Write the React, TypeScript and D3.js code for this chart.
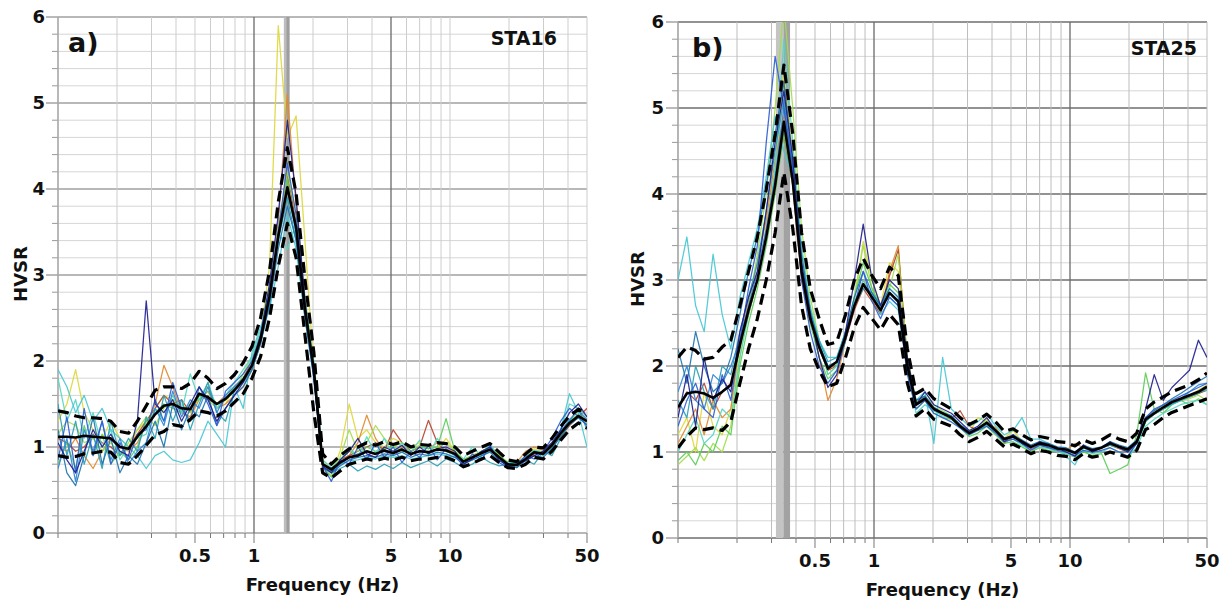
import * as d3 from "d3";

// frequency samples (Hz), shared by both stations
const FREQ = [
  0.1, 0.111, 0.123, 0.136, 0.151, 0.168, 0.186, 0.207, 0.229, 0.254,
  0.282, 0.313, 0.347, 0.385, 0.427, 0.473, 0.525, 0.582, 0.646, 0.716,
  0.794, 0.881, 0.977, 1.08, 1.2, 1.33, 1.48, 1.64, 1.82, 2.02,
  2.24, 2.48, 2.75, 3.06, 3.39, 3.76, 4.17, 4.62, 5.13, 5.69,
  6.31, 7.0, 7.76, 8.61, 9.55, 10.6, 11.7, 13.0, 14.5, 16.0,
  17.8, 19.7, 21.9, 24.3, 26.9, 29.9, 33.1, 36.7, 40.7, 45.2,
  50,
];

const X_TICK_LABELS = [0.5, 1, 5, 10, 50];
const Y_TICK_LABELS = [0, 1, 2, 3, 4, 5, 6];

// ---- STA16 ----
const A_MEAN = [
  1.12, 1.12, 1.11, 1.13, 1.12, 1.11, 1.1, 1.0, 0.98, 1.12,
  1.24, 1.38, 1.48, 1.5, 1.45, 1.44, 1.62, 1.58, 1.5, 1.56,
  1.66, 1.78, 1.95, 2.25, 2.75, 3.45, 4.02, 3.55, 2.6, 1.9,
  0.8, 0.74, 0.82, 0.88, 0.9, 0.95, 0.92, 0.96, 0.93, 0.97,
  0.92, 0.95, 0.94, 0.97, 0.96, 0.92, 0.83, 0.88, 0.93, 0.97,
  0.88, 0.8, 0.79, 0.86, 0.94, 0.92, 1.02, 1.16, 1.28, 1.36,
  1.3,
];
const A_UPPER = [
  1.42, 1.4, 1.36, 1.34, 1.34, 1.33, 1.3, 1.18, 1.16, 1.3,
  1.48, 1.66, 1.7, 1.7, 1.68, 1.74, 1.88, 1.8, 1.68, 1.74,
  1.84, 1.98, 2.17, 2.5, 3.05, 3.85, 4.48, 3.95, 2.95, 2.1,
  0.92, 0.8, 0.9, 0.98, 1.0, 1.05, 1.02, 1.06, 1.03, 1.06,
  1.0, 1.03, 1.02, 1.05, 1.04, 1.0, 0.9, 0.95, 1.0, 1.04,
  0.94, 0.85, 0.83, 0.92, 1.0, 0.99, 1.1, 1.24, 1.36, 1.44,
  1.4,
];
const A_LOWER = [
  0.9, 0.88, 0.89, 0.92, 0.93, 0.95, 0.94, 0.82, 0.8, 0.9,
  1.02, 1.14, 1.18, 1.26, 1.24, 1.32, 1.42, 1.4, 1.36, 1.42,
  1.52, 1.62, 1.8, 2.05, 2.5, 3.1, 3.6, 3.2, 2.3, 1.4,
  0.7, 0.64, 0.72, 0.8, 0.83, 0.86, 0.84, 0.87, 0.85, 0.88,
  0.84, 0.86, 0.86, 0.88, 0.88, 0.84, 0.77, 0.81, 0.86, 0.9,
  0.82, 0.76, 0.75, 0.8, 0.88, 0.86, 0.95, 1.08, 1.2, 1.28,
  1.22,
];
const A_W1 = [
  1.05, 0.85, 0.7, 0.95, 1.2, 1.0, 1.15, 0.95, 0.9, 1.3,
  2.7, 1.5, 1.4, 1.55, 1.3, 1.5, 1.7, 1.55, 1.3, 1.45,
  1.6, 1.75, 1.95, 2.3, 2.9, 3.7, 4.8, 3.9, 2.7, 1.8,
  0.78, 0.7, 0.85, 0.95, 1.1, 0.92, 0.88, 1.0, 0.95, 1.02,
  0.9, 1.0, 0.92, 0.98, 1.0, 0.95, 0.8, 0.86, 0.95, 1.0,
  0.85, 0.78, 0.8, 0.84, 0.9, 0.95, 1.05, 1.2, 1.4, 1.5,
  1.35,
];
const A_W2 = [
  1.3, 1.5, 1.9, 1.4, 1.2, 1.1, 1.3, 1.1, 1.0, 1.2,
  1.3, 1.45, 1.6, 1.55, 1.4, 1.35, 1.6, 1.7, 1.45, 1.5,
  1.7, 1.8, 1.95, 2.3, 3.1, 5.9, 4.6, 4.85, 3.4, 1.9,
  0.72, 0.68, 0.95, 1.5, 1.1, 1.2, 1.05, 1.0, 1.1, 1.05,
  1.0, 1.05, 1.0, 0.96, 1.1, 0.95, 0.85, 0.9, 0.92, 1.0,
  0.9, 0.82, 0.8, 0.88, 0.98, 0.94, 1.05, 1.15, 1.25, 1.4,
  1.3,
];
const A_W3 = [
  1.0, 0.95, 1.1, 0.9, 0.75, 0.95, 1.1, 1.0, 0.95, 1.05,
  1.25, 1.5, 1.95, 1.7, 1.4, 1.35, 1.55, 1.65, 1.45, 1.5,
  1.6, 1.7, 1.9, 2.2, 2.8, 3.6, 5.1, 3.8, 2.7, 1.85,
  0.8, 0.72, 0.8, 0.9, 1.05, 1.37, 1.1, 0.95, 0.92, 1.0,
  0.95, 1.0, 0.98, 1.05, 0.98, 0.94, 0.85, 0.9, 0.95, 1.0,
  0.92, 0.8, 0.82, 0.95, 1.0, 0.96, 1.05, 1.15, 1.3, 1.45,
  1.35,
];
const A_W4 = [
  1.1, 1.05, 0.95, 1.0, 1.15, 1.05, 1.0, 0.9, 1.0, 1.15,
  1.3, 1.45, 1.6, 1.5, 1.55, 1.4, 1.6, 1.55, 1.5, 1.6,
  1.7, 1.8, 2.0, 2.3, 2.8, 3.5, 4.2, 3.6, 2.7, 1.9,
  0.8, 0.74, 0.85, 0.9, 0.95, 1.0, 1.05, 0.95, 1.2, 1.05,
  0.95, 1.0, 1.31, 1.05, 0.95, 0.92, 0.84, 0.88, 0.92, 0.98,
  0.88, 0.8, 0.78, 0.85, 0.92, 0.95, 1.0, 1.12, 1.25, 1.35,
  1.45,
];
const A_W5 = [
  1.9, 1.7, 1.4, 1.6, 1.3, 1.45, 1.2, 1.1, 1.0, 0.9,
  0.75, 0.9, 0.95, 0.85, 0.82, 0.85, 1.05, 1.3, 1.15, 1.0,
  1.7, 1.45, 2.1, 2.4, 2.6, 3.1, 3.7, 3.3, 2.5, 1.8,
  0.8, 0.74, 0.8, 0.84, 0.85, 0.88, 0.86, 0.9, 0.88, 0.9,
  0.86, 0.88, 0.9, 0.92, 0.9, 0.88, 0.82, 0.85, 0.9, 0.95,
  0.88, 0.8, 0.8, 0.85, 0.95, 0.9, 0.98, 1.2, 1.62, 1.4,
  1.0,
];
const A_W6 = [
  0.85, 1.35, 0.7, 1.45, 0.9, 1.3, 0.8, 1.05, 0.85, 1.15,
  1.2, 1.55, 1.3, 1.75, 1.45, 1.3, 1.7, 1.5, 1.25, 1.65,
  1.75, 1.85, 2.0, 2.3, 2.8, 3.5, 4.3, 3.7, 2.65, 1.85,
  0.78, 0.6, 0.85, 0.8, 1.0, 0.85, 1.05, 0.88, 1.0, 0.82,
  0.95, 0.88, 1.02, 0.85, 0.98, 0.9, 0.78, 0.92, 0.85, 1.02,
  0.82, 0.76, 0.8, 0.9, 0.86, 0.95, 1.1, 1.3, 1.45, 1.35,
  1.25,
];
const A_W7 = [
  1.5, 0.9, 1.3, 0.8, 1.15, 0.75, 1.3, 0.9, 1.1, 0.95,
  1.35, 1.1, 1.6, 1.3, 1.55, 1.2, 1.5, 1.75, 1.4, 1.3,
  1.65, 1.75, 1.9, 2.2, 2.7, 3.4, 3.9, 3.4, 2.55, 1.85,
  0.82, 0.7, 0.75, 0.8, 0.72, 0.78, 0.74, 0.8, 0.75, 0.82,
  0.76, 0.8, 0.84, 0.78, 0.86, 0.82, 0.76, 0.8, 0.88, 0.82,
  0.78, 0.8, 0.76, 0.85, 0.8, 0.95, 0.9, 1.1, 1.3, 1.45,
  1.2,
];
const A_W8 = [
  0.8, 1.05, 0.75, 1.25, 0.9, 1.15, 0.8, 0.95, 0.85, 1.0,
  1.3, 1.4, 1.5, 1.45, 1.4, 1.5, 1.55, 1.65, 1.5, 1.55,
  1.7, 1.8, 1.95, 2.25, 2.7, 3.4, 4.1, 3.5, 2.6, 1.95,
  0.78, 0.65, 0.85, 0.95, 0.9, 1.0, 0.95, 0.98, 1.0, 0.95,
  0.95, 1.0, 0.98, 1.0, 1.33, 0.95, 0.86, 0.88, 0.95, 1.0,
  0.9, 0.82, 0.8, 0.86, 0.94, 0.92, 1.0, 1.15, 1.3, 1.38,
  1.3,
];
const A_W9 = [
  1.15, 1.3, 1.25, 1.05, 1.1, 0.95, 1.05, 0.9, 1.05, 1.2,
  1.35, 1.25, 1.45, 1.55, 1.5, 1.4, 1.6, 1.55, 1.45, 1.55,
  1.65, 1.85, 2.05, 2.35, 2.85, 3.55, 4.2, 3.7, 2.75, 1.95,
  0.85, 0.75, 0.88, 1.2, 0.95, 1.05, 1.25, 1.1, 1.0, 1.05,
  0.98, 1.02, 0.98, 1.0, 1.05, 0.95, 0.85, 0.9, 0.95, 1.0,
  0.9, 0.82, 0.8, 0.88, 0.96, 0.92, 1.02, 1.18, 1.3, 1.36,
  1.28,
];
const A_W10 = [
  0.75, 1.1, 0.6, 1.2, 0.95, 1.3, 0.85, 1.1, 0.8, 0.95,
  1.05, 1.45, 1.25, 1.65, 1.35, 1.55, 1.45, 1.7, 1.4, 1.6,
  1.7, 1.8, 1.95, 2.25, 2.75, 3.45, 4.0, 3.5, 2.55, 1.85,
  0.8, 0.72, 0.8, 0.88, 0.92, 0.95, 0.92, 0.95, 0.92, 0.98,
  0.92, 0.96, 0.94, 0.98, 0.96, 0.92, 0.83, 0.88, 0.94, 0.98,
  0.88, 0.8, 0.8, 0.88, 0.95, 0.92, 1.02, 1.18, 1.32, 1.42,
  1.32,
];
const A_W11 = [
  1.2, 0.7, 0.55, 0.9, 1.35, 0.8, 1.1, 0.7, 0.9, 0.8,
  1.05, 1.3, 1.0, 1.5, 1.2, 1.45, 1.35, 1.6, 1.25, 1.45,
  1.6, 1.7, 1.9, 2.2, 2.65, 3.3, 3.8, 3.4, 2.5, 1.8,
  0.76, 0.7, 0.78, 0.85, 0.88, 0.9, 0.88, 0.92, 0.9, 0.94,
  0.88, 0.92, 0.9, 0.94, 0.92, 0.88, 0.8, 0.85, 0.9, 0.94,
  0.85, 0.78, 0.76, 0.84, 0.9, 0.88, 0.98, 1.12, 1.26, 1.34,
  1.26,
];
const A_W12 = [
  1.8, 1.3, 1.55, 1.1, 1.4, 1.0, 1.2, 0.85, 1.0, 1.1,
  1.15, 1.45, 1.3, 1.6, 1.4, 1.85, 1.55, 1.75, 1.45, 1.6,
  1.75, 1.9, 2.05, 2.35, 2.85, 3.5, 3.3, 3.6, 2.7, 2.0,
  0.85, 0.76, 0.84, 1.0, 0.88, 1.12, 0.92, 1.1, 0.9, 1.05,
  0.94, 1.08, 0.9, 1.1, 0.95, 0.9, 0.86, 1.0, 0.9, 1.05,
  0.85, 0.82, 0.82, 0.88, 0.96, 0.94, 1.04, 1.2, 1.5, 1.45,
  1.35,
];

// ---- STA25 ----
const B_MEAN = [
  1.52, 1.68, 1.7, 1.68, 1.63, 1.7, 1.78, 2.25, 2.65, 3.0,
  3.5, 4.1, 4.84, 4.15, 3.1, 2.55, 2.22, 1.97, 2.05, 2.34,
  2.7, 2.95, 2.8, 2.65, 2.85, 2.75, 2.0, 1.55, 1.62, 1.5,
  1.45, 1.4, 1.3, 1.22, 1.27, 1.34, 1.25, 1.15, 1.18, 1.12,
  1.06, 1.1, 1.08, 1.04, 1.03, 0.99, 1.06, 1.02, 1.05, 1.1,
  1.06, 1.03, 1.12, 1.38, 1.45, 1.52, 1.58, 1.62, 1.66, 1.7,
  1.76,
];
const B_UPPER = [
  2.1, 2.22, 2.18, 2.08, 2.1, 2.22, 2.3, 2.7, 3.1, 3.5,
  4.05, 4.7, 5.5, 4.7, 3.55, 2.9, 2.55, 2.25, 2.28, 2.6,
  3.0, 3.25, 3.05, 2.9, 3.15, 3.05, 2.2, 1.68, 1.74, 1.62,
  1.56, 1.5, 1.4, 1.32, 1.37, 1.44, 1.35, 1.24, 1.27, 1.2,
  1.14, 1.18, 1.16, 1.12, 1.11, 1.07, 1.14, 1.1, 1.14, 1.2,
  1.15, 1.12, 1.22, 1.5, 1.58, 1.64, 1.7, 1.74, 1.78, 1.84,
  1.92,
];
const B_LOWER = [
  1.05, 1.18, 1.28, 1.26, 1.28, 1.25, 1.35, 1.8, 2.2, 2.55,
  3.0, 3.55, 4.25, 3.6, 2.7, 2.2, 1.95, 1.76, 1.8, 2.1,
  2.45, 2.68, 2.55, 2.42, 2.6, 2.48, 1.8, 1.42, 1.5, 1.38,
  1.34, 1.3, 1.2, 1.12, 1.17, 1.24, 1.15, 1.06, 1.09, 1.04,
  0.98, 1.02, 1.0, 0.96, 0.95, 0.91, 0.98, 0.94, 0.96, 1.0,
  0.97, 0.94, 1.02, 1.26, 1.32, 1.4, 1.46, 1.5, 1.54, 1.58,
  1.62,
];
const B_W1 = [
  1.4, 1.9, 1.3, 2.1, 1.6, 1.85, 1.7, 2.4, 2.8, 3.1,
  3.8, 4.6, 5.2, 4.4, 3.2, 2.6, 2.1, 1.75, 1.9, 2.4,
  3.0, 3.65, 3.0, 2.7, 3.0, 2.9, 2.1, 1.55, 1.7, 1.55,
  1.5, 1.45, 1.35, 1.25, 1.3, 1.4, 1.25, 1.12, 1.2, 1.1,
  1.05, 1.12, 1.08, 1.05, 1.0, 0.95, 1.08, 1.0, 1.05, 1.12,
  1.05, 1.0, 1.1, 1.5, 1.9, 1.6, 1.75, 1.85, 1.95, 2.3,
  2.1,
];
const B_W2 = [
  3.0, 3.5, 2.7, 2.4, 3.3, 2.6, 2.2, 2.8, 3.2, 3.6,
  4.2, 4.9, 4.5, 4.2, 3.2, 2.6, 2.3, 2.1, 2.1, 2.4,
  2.75, 2.95, 2.85, 2.6, 2.75, 2.65, 1.95, 1.6, 1.7, 1.1,
  2.1, 1.5, 1.4, 1.3, 1.35, 1.45, 1.3, 1.2, 1.25, 1.4,
  1.15, 1.15, 1.1, 1.05, 0.95, 0.85, 1.05, 1.0, 1.05, 1.1,
  1.05, 1.0, 1.1, 1.35, 1.45, 1.5, 1.55, 1.6, 1.65, 1.7,
  1.72,
];
const B_W3 = [
  1.3, 1.6, 1.8, 1.5, 1.4, 1.9, 1.6, 2.3, 2.9, 3.4,
  4.6, 5.6, 5.0, 4.3, 3.0, 2.4, 2.0, 1.8, 1.95, 2.3,
  2.7, 3.1, 2.75, 2.55, 2.8, 2.7, 1.9, 1.5, 1.6, 1.45,
  1.4, 1.35, 1.28, 1.2, 1.25, 1.3, 1.22, 1.12, 1.15, 1.1,
  1.02, 1.08, 1.05, 1.02, 1.0, 0.96, 1.02, 1.0, 1.02, 1.05,
  1.0, 0.95, 1.1, 1.4, 1.5, 1.55, 1.6, 1.65, 1.7, 1.75,
  1.8,
];
const B_W4 = [
  0.9, 1.0, 0.85, 1.1, 1.0, 1.3, 1.2, 2.0, 2.5, 2.9,
  3.4, 4.0, 4.7, 4.1, 3.1, 2.5, 2.1, 1.85, 1.95, 2.3,
  2.8, 3.2, 2.9, 2.7, 2.95, 2.85, 2.05, 1.5, 1.6, 1.45,
  1.4, 1.38, 1.28, 1.18, 1.22, 1.3, 1.2, 1.1, 1.12, 1.06,
  1.0, 1.05, 1.02, 1.0, 0.98, 0.94, 1.0, 0.96, 0.98, 0.75,
  0.8, 0.85, 1.2, 1.92, 1.5, 1.45, 1.55, 1.6, 1.55, 1.62,
  1.55,
];
const B_W5 = [
  0.85, 0.95, 1.05, 0.9, 1.1, 1.0, 1.3, 2.1, 2.7, 3.3,
  4.0, 5.0, 6.2, 5.0, 3.6, 2.8, 2.3, 1.9, 2.0, 2.35,
  2.8, 3.4, 2.9, 2.65, 2.9, 3.3, 2.1, 1.6, 1.65, 1.55,
  1.48, 1.42, 1.32, 1.22, 1.28, 1.38, 1.26, 1.15, 1.18, 1.12,
  1.06, 1.1, 1.08, 1.04, 1.02, 0.98, 1.05, 1.0, 1.05, 1.08,
  1.05, 1.0, 1.1, 1.35, 1.45, 1.5, 1.56, 1.6, 1.62, 1.66,
  1.6,
];
const B_W6 = [
  1.2, 1.4, 1.0, 1.7, 1.3, 1.2, 1.5, 2.2, 2.6, 3.0,
  3.6, 4.3, 5.4, 4.5, 3.3, 2.6, 2.2, 1.95, 2.05, 2.35,
  2.75, 3.45, 3.0, 2.7, 3.2, 3.1, 2.1, 1.58, 1.65, 1.52,
  1.46, 1.4, 1.3, 1.22, 1.4, 1.35, 1.28, 1.16, 1.25, 1.12,
  1.06, 1.12, 1.08, 1.04, 1.02, 0.98, 1.06, 1.02, 1.04, 1.1,
  1.05, 1.02, 1.12, 1.38, 1.48, 1.55, 1.6, 1.62, 1.66, 1.72,
  1.78,
];
const B_W7 = [
  1.1, 1.3, 1.5, 1.2, 1.6, 1.4, 1.5, 2.3, 2.75, 3.2,
  3.7, 4.4, 4.9, 4.2, 3.1, 2.55, 2.1, 1.6, 1.85, 2.3,
  2.7, 3.0, 2.8, 2.6, 3.1, 3.4, 2.0, 1.55, 1.6, 1.5,
  1.45, 1.4, 1.3, 1.22, 1.28, 1.35, 1.28, 1.15, 1.2, 1.1,
  1.0, 1.08, 1.05, 1.0, 1.02, 1.1, 1.05, 1.0, 1.05, 1.08,
  1.05, 1.0, 1.12, 1.4, 1.45, 1.5, 1.56, 1.6, 1.64, 1.68,
  1.72,
];
const B_W8 = [
  1.6, 1.4, 2.0, 1.7, 1.5, 2.0, 1.9, 2.4, 2.8, 3.2,
  3.8, 4.5, 5.1, 4.2, 3.2, 2.6, 2.3, 2.05, 2.1, 2.4,
  2.7, 2.9, 2.85, 2.7, 2.8, 2.7, 1.95, 1.55, 1.65, 1.5,
  1.45, 1.42, 1.3, 1.22, 1.26, 1.32, 1.24, 1.15, 1.18, 1.12,
  1.06, 1.1, 1.06, 1.03, 1.02, 0.98, 1.05, 1.02, 1.05, 1.08,
  1.05, 1.02, 1.1, 1.36, 1.44, 1.5, 1.56, 1.6, 1.64, 1.68,
  1.74,
];
const B_W9 = [
  1.5, 1.7, 1.6, 1.8, 1.5, 1.7, 1.8, 2.2, 2.6, 3.0,
  3.5, 4.1, 4.7, 4.1, 3.0, 2.5, 2.2, 1.95, 2.0, 2.3,
  2.65, 2.9, 2.75, 2.6, 3.05, 3.35, 2.05, 1.55, 1.6, 1.48,
  1.44, 1.38, 1.48, 1.3, 1.25, 1.32, 1.25, 1.1, 1.18, 1.1,
  1.04, 1.08, 1.06, 1.04, 1.02, 0.98, 1.08, 1.02, 1.05, 1.08,
  1.04, 1.0, 1.1, 1.36, 1.44, 1.5, 1.56, 1.6, 1.64, 1.68,
  1.72,
];
const B_W10 = [
  1.7, 2.0, 1.6, 1.5, 1.9, 1.8, 2.0, 2.3, 2.7, 3.1,
  3.6, 4.2, 5.0, 4.3, 3.1, 2.55, 2.25, 2.0, 2.05, 2.35,
  2.7, 2.95, 2.8, 2.65, 2.85, 2.75, 2.0, 1.55, 1.62, 1.5,
  1.45, 1.4, 1.3, 1.22, 1.27, 1.34, 1.25, 1.15, 1.18, 1.12,
  1.06, 1.1, 1.08, 1.04, 1.03, 0.99, 1.06, 1.02, 1.05, 1.1,
  1.06, 1.03, 1.12, 1.38, 1.45, 1.52, 1.58, 1.62, 1.7, 1.78,
  1.8,
];
const B_W11 = [
  1.0, 1.2, 1.4, 1.1, 1.2, 1.5, 1.4, 2.1, 2.6, 3.0,
  3.5, 4.3, 5.8, 4.6, 3.4, 2.7, 2.3, 1.9, 2.0, 2.35,
  2.7, 3.0, 2.8, 2.7, 2.9, 2.8, 1.95, 1.45, 1.55, 1.48,
  1.42, 1.4, 1.3, 1.2, 1.26, 1.32, 1.24, 1.12, 1.15, 1.08,
  1.02, 1.06, 1.04, 1.0, 0.98, 0.95, 1.02, 0.98, 1.0, 1.05,
  1.0, 0.95, 1.05, 1.3, 1.38, 1.45, 1.5, 1.55, 1.58, 1.6,
  1.55,
];
const B_W12 = [
  2.2, 1.8, 2.4, 2.0, 1.7, 1.8, 2.1, 2.6, 3.1, 3.5,
  4.1, 4.7, 5.3, 4.4, 3.3, 2.65, 2.25, 2.0, 2.05, 2.4,
  2.8, 3.1, 2.85, 2.7, 2.9, 2.8, 2.05, 1.6, 1.65, 1.52,
  1.46, 1.42, 1.32, 1.24, 1.28, 1.35, 1.26, 1.16, 1.2, 1.14,
  1.08, 1.12, 1.1, 1.06, 1.05, 1.0, 1.08, 1.04, 1.06, 1.12,
  1.08, 1.05, 1.14, 1.4, 1.48, 1.55, 1.62, 1.68, 1.75, 1.82,
  1.88,
];

// window colours (jet-like), warm ones first so blues sit on top
const A_WINDOWS = [
  { values: A_W2, color: "#dcd83a" },
  { values: A_W3, color: "#e0892e" },
  { values: A_W4, color: "#b5432e" },
  { values: A_W9, color: "#a2dd4c" },
  { values: A_W8, color: "#5ccd57" },
  { values: A_W12, color: "#55d6c2" },
  { values: A_W5, color: "#45c8d2" },
  { values: A_W7, color: "#2aa0b5" },
  { values: A_W10, color: "#2f86d8" },
  { values: A_W11, color: "#1e74b0" },
  { values: A_W6, color: "#2d5fd4" },
  { values: A_W1, color: "#20208f" },
];
const B_WINDOWS = [
  { values: B_W6, color: "#dcd83a" },
  { values: B_W7, color: "#e0892e" },
  { values: B_W9, color: "#b5432e" },
  { values: B_W5, color: "#a2dd4c" },
  { values: B_W4, color: "#5ccd57" },
  { values: B_W11, color: "#55d6c2" },
  { values: B_W2, color: "#45c8d2" },
  { values: B_W8, color: "#2aa0b5" },
  { values: B_W10, color: "#2f86d8" },
  { values: B_W12, color: "#1e74b0" },
  { values: B_W3, color: "#2d5fd4" },
  { values: B_W1, color: "#20208f" },
];

const A_BANDS = [
  { from: 1.42, to: 1.46, color: "#bdbdbd" },
  { from: 1.46, to: 1.52, color: "#9e9e9e" },
];
const B_BANDS = [
  { from: 0.316, to: 0.345, color: "#c4c4c4" },
  { from: 0.345, to: 0.373, color: "#a2a2a2" },
];

const FONT = "'DejaVu Sans', Verdana, sans-serif";

const Panel = ({ id, box, windows, mean, upper, lower, bands, darkAt, hMajor, vMinor, tag, station, text }) => {
  const x = d3.scaleLog().domain([0.1, 50]).range([box.left, box.right]);
  const y = d3.scaleLinear().domain([0, 6]).range([box.bottom, box.top]);
  const line = d3
    .line<number>()
    .x((_, i) => x(FREQ[i]))
    .y((d) => y(d));
  const yGrid = d3.range(0, 31).map((i) => +(i * 0.2).toFixed(1));
  const xGrid = x.ticks();

  return (
    <g>
      <defs>
        <clipPath id={`clip-${id}`}>
          <rect x={box.left} y={box.top} width={box.right - box.left} height={box.bottom - box.top} />
        </clipPath>
      </defs>

      {/* grid */}
      {yGrid.map((v) => {
        const major = Number.isInteger(v);
        return (
          <g key={`h${v}`}>
            <line x1={box.left} x2={box.right} y1={y(v)} y2={y(v)} stroke={major ? hMajor : "#d6d6d6"} strokeWidth={major ? 1.3 : 1} />
            <line x1={box.left - (major ? 12 : 6)} x2={box.left} y1={y(v)} y2={y(v)} stroke={major ? "#777" : "#999"} strokeWidth={1} />
          </g>
        );
      })}
      {xGrid.map((f) => {
        const dark = darkAt.includes(f);
        const labelled = X_TICK_LABELS.includes(f);
        return (
          <g key={`v${f}`}>
            <line x1={x(f)} x2={x(f)} y1={box.top} y2={box.bottom} stroke={dark ? "#6a6a6a" : vMinor} strokeWidth={dark ? 1.3 : 1} />
            <line x1={x(f)} x2={x(f)} y1={box.bottom} y2={box.bottom + (labelled ? 10 : 5)} stroke="#777" strokeWidth={1} />
          </g>
        );
      })}
      <line x1={box.left} x2={box.left} y1={box.top} y2={box.bottom} stroke="#9a9a9a" strokeWidth={1.2} />

      {/* f0 band */}
      {bands.map((b, i) => (
        <rect key={i} x={x(b.from)} y={box.top} width={x(b.to) - x(b.from)} height={box.bottom - box.top} fill={b.color} />
      ))}

      <g clipPath={`url(#clip-${id})`} fill="none" strokeLinejoin="round">
        {windows.map((w, i) => (
          <path key={i} d={line(w.values)} stroke={w.color} strokeWidth={1.25} opacity={0.92} />
        ))}
        <path d={line(upper)} stroke="#000" strokeWidth={3.2} strokeDasharray="11 6" />
        <path d={line(lower)} stroke="#000" strokeWidth={3.2} strokeDasharray="11 6" />
        <path d={line(mean)} stroke="#000" strokeWidth={2.6} />
      </g>

      {/* labels */}
      <g fontFamily={FONT} fontWeight="bold" fill="#111">
        {Y_TICK_LABELS.map((v) => (
          <text key={`yl${v}`} x={text.yLabelX} y={y(v)} dy="0.36em" textAnchor="end" fontSize={18}>
            {v}
          </text>
        ))}
        {X_TICK_LABELS.map((f) => (
          <text key={`xl${f}`} x={x(f)} y={text.xLabelY} textAnchor="middle" fontSize={18}>
            {f}
          </text>
        ))}
        <text x={(box.left + box.right) / 2} y={text.titleY} textAnchor="middle" fontSize={18}>
          Frequency (Hz)
        </text>
        <text transform={`translate(${text.hvsr[0]},${text.hvsr[1]}) rotate(-90)`} textAnchor="middle" dy="0.36em" fontSize={18}>
          HVSR
        </text>
        <text x={tag.x} y={tag.y} fontSize={27}>
          {tag.label}
        </text>
        <text x={station.x} y={station.y} textAnchor="end" fontSize={19}>
          {station.label}
        </text>
      </g>
    </g>
  );
};

export default function App() {
  return (
    <svg width={1228} height={605} style={{ position: "absolute", left: 0, top: 0, background: "#fff" }}>
      <rect width={1228} height={605} fill="#fff" />
      <Panel
        id="a"
        box={{ left: 58, right: 587, top: 17, bottom: 533 }}
        windows={A_WINDOWS}
        mean={A_MEAN}
        upper={A_UPPER}
        lower={A_LOWER}
        bands={A_BANDS}
        darkAt={[1, 5]}
        hMajor="#a0a0a0"
        vMinor="#cdcdcd"
        tag={{ label: "a)", x: 68, y: 52 }}
        station={{ label: "STA16", x: 557, y: 45 }}
        text={{ yLabelX: 45, xLabelY: 562, titleY: 591, hvsr: [21, 274] }}
      />
      <Panel
        id="b"
        box={{ left: 678, right: 1207, top: 22, bottom: 538 }}
        windows={B_WINDOWS}
        mean={B_MEAN}
        upper={B_UPPER}
        lower={B_LOWER}
        bands={B_BANDS}
        darkAt={[1, 10]}
        hMajor="#6e6e6e"
        vMinor="#bdbdbd"
        tag={{ label: "b)", x: 692, y: 57 }}
        station={{ label: "STA25", x: 1197, y: 55 }}
        text={{ yLabelX: 664, xLabelY: 567, titleY: 596, hvsr: [638, 279] }}
      />
    </svg>
  );
}
